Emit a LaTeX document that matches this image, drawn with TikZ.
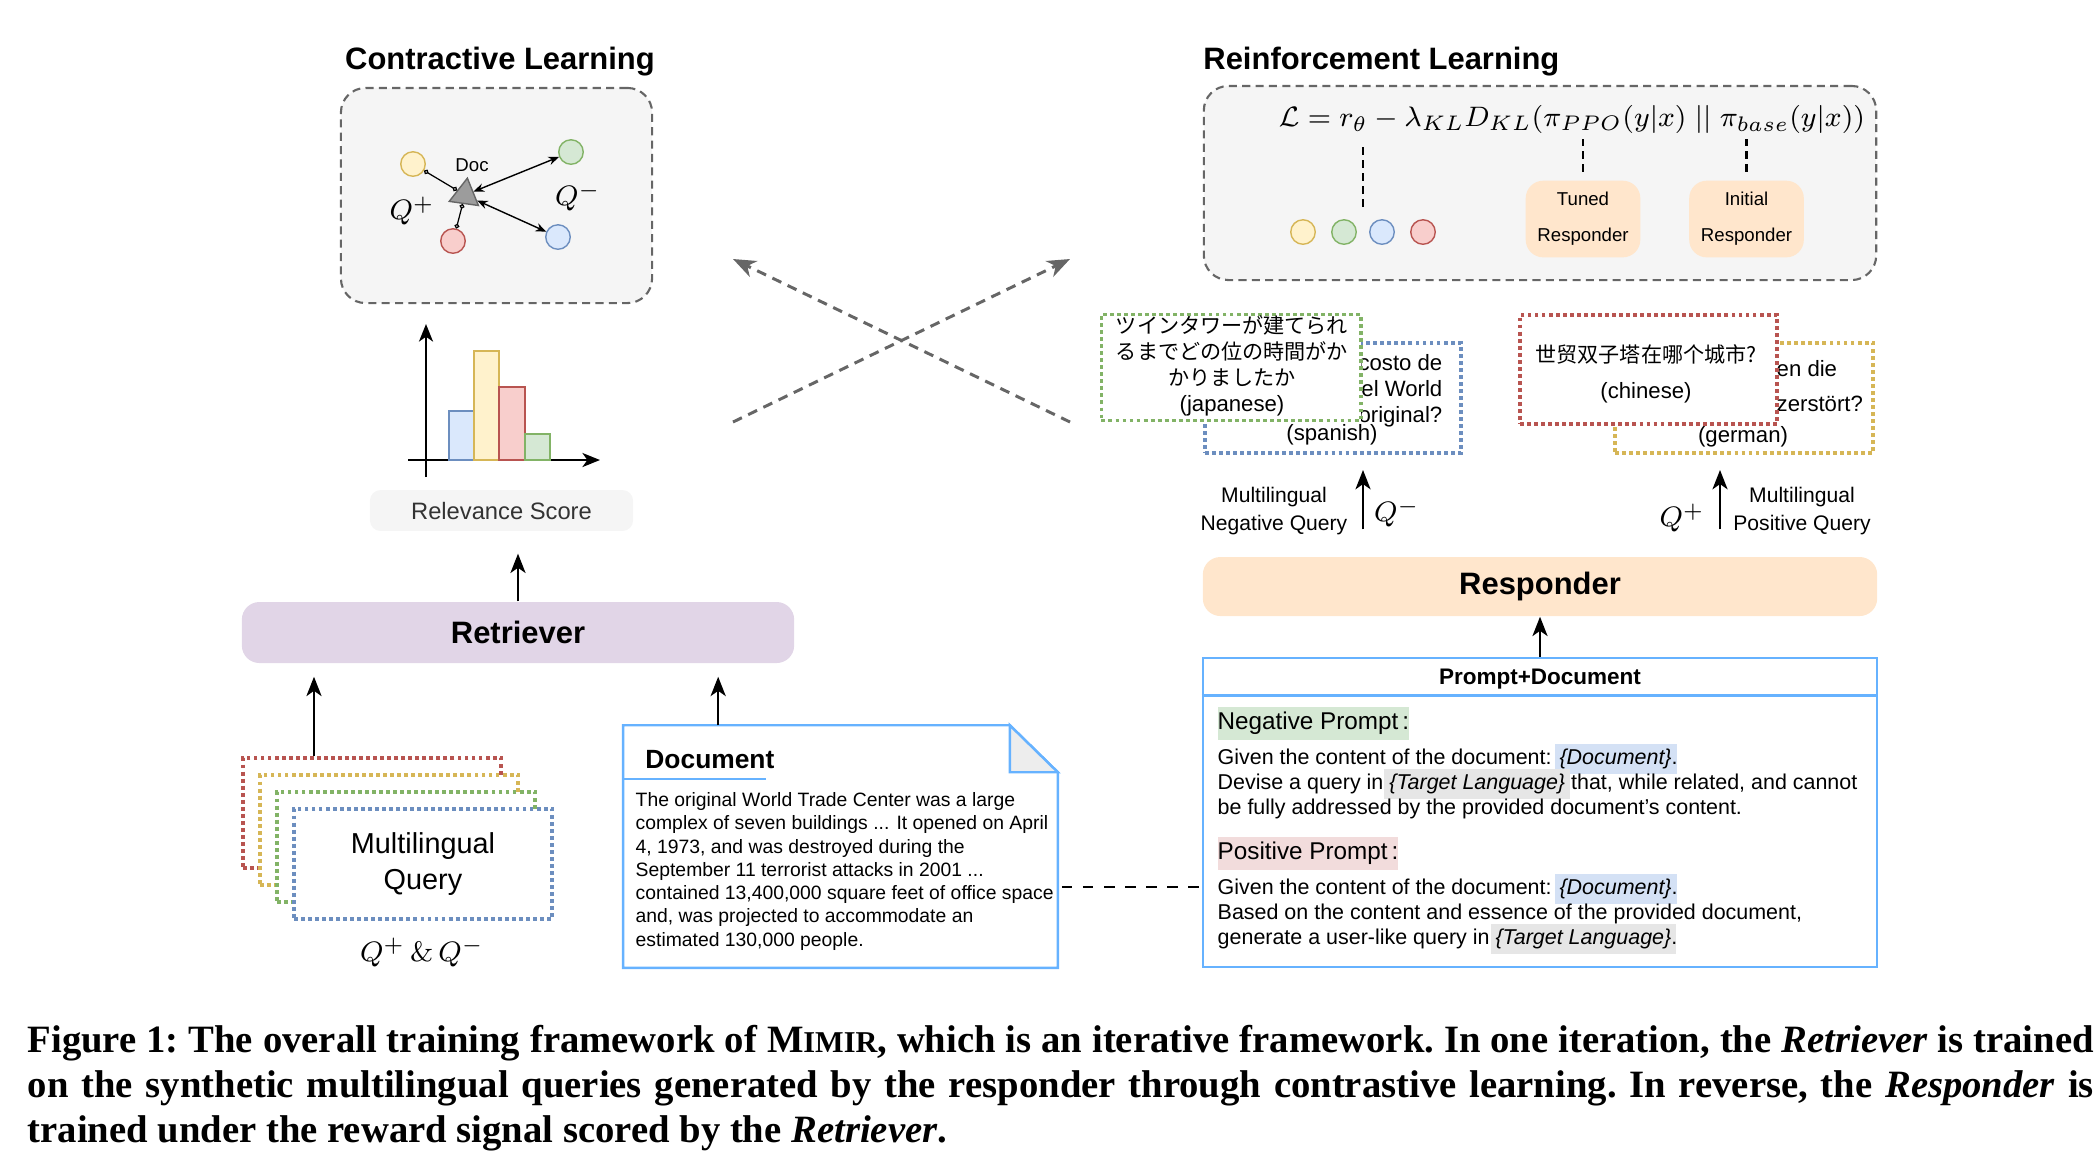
\documentclass[tikz,border=0pt]{standalone}
\usepackage{fontspec}
\setsansfont{Liberation Sans}
\newfontfamily\capfont{Liberation Serif}
\newfontfamily\jafont{Noto Sans CJK JP}
\newfontfamily\zhfont{Noto Sans CJK SC}
\usetikzlibrary{arrows.meta, positioning, shapes.geometric, calc}
\definecolor{cyellow}{HTML}{D6B656}
\definecolor{cyellowf}{HTML}{FFF2CC}
\definecolor{cgreen}{HTML}{82B366}
\definecolor{cgreenf}{HTML}{D5E8D4}
\definecolor{cblue}{HTML}{6C8EBF}
\definecolor{cbluef}{HTML}{DAE8FC}
\definecolor{cred}{HTML}{B85450}
\definecolor{credf}{HTML}{F8CECC}
\definecolor{cpurple}{HTML}{E1D5E7}
\definecolor{corange}{HTML}{FFE6CC}
\definecolor{cpanel}{HTML}{F5F5F5}
\definecolor{cgrey}{HTML}{666666}
\definecolor{cline}{HTML}{66B2FF}
\definecolor{hlblue}{HTML}{D4E1F5}
\definecolor{hlgrey}{HTML}{E6E6E6}
\definecolor{hlgreen}{HTML}{D5E8D4}
\definecolor{hlpink}{HTML}{F2DCDC}
\newcommand{\hl}[2]{{\setlength{\fboxsep}{1.4pt}\hspace*{-1.4pt}\smash{\colorbox{#1}{#2}}\hspace*{-1.4pt}}}
\tikzset{
  every picture/.style={font=\sffamily},
  title/.style={font=\sffamily\bfseries\fontsize{8.8}{10}\selectfont},
  panel/.style={draw=cgrey, fill=cpanel, line width=0.6pt, dash pattern=on 2.3pt off 1.5pt, rounded corners=7pt},
  bigblock/.style={fill=#1, rounded corners=5pt, font=\sffamily\bfseries\fontsize{8.8}{10}\selectfont},
  dot/.style={circle, draw=#1, fill=#1f, line width=0.4pt, minimum size=0.245cm, inner sep=0pt},
  bar/.style={draw=#1, fill=#1f, line width=0.6pt},
  chartaxis/.style={-{Stealth[length=5pt, width=4pt, inset=1.4pt]}, line width=0.6pt},
  qbox/.style={draw=#1, fill=white, line width=1.1pt, dash pattern=on 1.1pt off 0.9pt},
  qtext/.style={font=\sffamily\fontsize{6.3}{7.4}\selectfont, inner sep=0pt},
  qlab/.style={font=\fontsize{8}{9}\selectfont},
  lab/.style={font=\sffamily\fontsize{6}{7.7}\selectfont, align=center},
  upar/.style={-{Stealth[length=5.5pt, width=4.3pt, inset=1.5pt]}, line width=0.6pt},
  pin/.style={{Circle[open, length=1.4pt]}-{Circle[open, length=1.4pt]}, line width=0.35pt},
  dbl/.style={{Stealth[length=3pt, width=2.4pt]}-{Stealth[length=3pt, width=2.4pt]}, line width=0.4pt},
  cross/.style={-{Stealth[length=6.5pt, width=5pt, inset=2pt]}, draw=cgrey, line width=0.85pt, dash pattern=on 2.8pt off 2pt},
  kl/.style={line width=0.6pt, dash pattern=on 2.3pt off 1.4pt},
  respbox/.style={fill=corange, rounded corners=5pt, minimum width=1.12cm, minimum height=0.75cm, align=center, font=\sffamily\fontsize{5.3}{10.2}\selectfont},
  doctext/.style={font=\sffamily\fontsize{5.5}{6.6}\selectfont, align=left, inner sep=0pt},
  ptext/.style={font=\sffamily\fontsize{6.1}{7.2}\selectfont, align=left, inner sep=0pt},
  tag/.style={fill=#1, anchor=west, inner xsep=0pt, inner ysep=0pt, minimum height=0.33cm, font=\sffamily\fontsize{6.9}{8}\selectfont},
}
\begin{document}
\begin{tikzpicture}[x=0.01cm, y=-0.01cm]
  \useasboundingbox (0,0) rectangle (2100,1156);

  % contrastive learning
  \node[title] (cltitle) at (500,62) {Contractive Learning};
  \node[panel, minimum width=3.11cm, minimum height=2.15cm] (clbox) at (496.5,195.5) {};
  \node[dot=cyellow] (cqy) at (413,164) {};
  \node[dot=cgreen] (cqg) at (571,152) {};
  \node[dot=cblue] (cqb) at (558,237) {};
  \node[dot=cred] (cqr) at (453,241) {};
  \node[regular polygon, regular polygon sides=3, draw=cgrey, fill=cgrey!65, line width=0.4pt,
    minimum size=0.34cm, inner sep=0pt, rotate=-8] (doc) at (465,195) {};
  \node[font=\sffamily\fontsize{5.3}{6}\selectfont] (doclab) at (472,165) {Doc};
  \draw[pin] (cqy) -- (doc);
  \draw[pin] (cqr) -- (doc);
  \draw[dbl] (doc) -- (cqg);
  \draw[dbl] (doc) -- (cqb);
  \node[qlab] (clqp) at (412,211) {$Q^+$};
  \node[qlab] (clqm) at (578,197) {$Q^-$};

  % relevance chart
  \draw[chartaxis] (408,460) -- (600,460);
  \draw[chartaxis] (426,477) -- (426,324);
  \draw[bar=cblue] (449,460) rectangle (474,411);
  \draw[bar=cyellow] (474,460) rectangle (499,351);
  \draw[bar=cred] (499,460) rectangle (525,387);
  \draw[bar=cgreen] (525,460) rectangle (550,434);
  \node[fill=cpanel, rounded corners=3pt, minimum width=2.63cm, minimum height=0.35cm, text=black!80,
    font=\sffamily\fontsize{6.75}{8}\selectfont] (rel) at (501.5,510.5) {Relevance Score};

  \node[bigblock=cpurple, minimum width=5.52cm, minimum height=0.61cm] (retr) at (518,632.5) {Retriever};
  \draw[upar, shorten >=0.22cm] (retr.north) -- (retr.north |- rel.south);

  % multilingual queries
  \foreach \c/\n/\x/\y in {cred/qr/372/813, cyellow/qy/389/830, cgreen/qg/406/847}
    \node[qbox=\c, minimum width=2.58cm, minimum height=1.1cm] (\n) at (\x,\y) {};
  \node[qbox=cblue, minimum width=2.58cm, minimum height=1.1cm, align=center,
    font=\sffamily\fontsize{8.2}{10.5}\selectfont] (qb) at (423,864) {Multilingual\\Query};
  \node[qlab] (qpm) at (422,952) {$Q^+\,\&\,Q^-$};
  \coordinate (qout) at ($(qr.north west)+(73,0)$);
  \draw[upar, shorten >=0.13cm] (qout) -- (qout |- retr.south);

  % document
  \node[minimum width=4.33cm, minimum height=2.41cm] (docn) at (840.5,846.5) {};
  \draw[cline, line width=0.7pt] (docn.north west) -- ($(docn.north east)+(-48,0)$) -- ($(docn.north east)+(0,47)$)
    -- (docn.south east) -- (docn.south west) -- cycle;
  \draw[cline, line width=0.7pt, fill=black!7] ($(docn.north east)+(-48,0)$) -- ($(docn.north east)+(-48,47)$)
    -- ($(docn.north east)+(0,47)$) -- cycle;
  \node[anchor=west, font=\sffamily\bfseries\fontsize{7.5}{9}\selectfont] (doctitle) at (633,760) {Document};
  \draw[cline, line width=0.7pt] ($(docn.north west)+(0,54)$) -- ++(143,0);
  \node[doctext, anchor=north west] (docbody) at (635,792) {The original World Trade Center was a large\\
    complex of seven buildings ... It opened on April\\4, 1973, and was destroyed during the\\
    September 11 terrorist attacks in 2001 ...\\contained 13,400,000 square feet of office space\\
    and, was projected to accommodate an\\estimated 130,000 people.};
  \coordinate (dout) at ($(docn.north west)+(95,0)$);
  \draw[upar, shorten >=0.13cm] (dout) -- (dout |- retr.south);

  % iteration arrows
  \coordinate (xa) at (733,422);
  \coordinate (xb) at (1070,259);
  \coordinate (xc) at (1070,422);
  \coordinate (xd) at (733,259);
  \draw[cross] (xa) -- (xb);
  \draw[cross] (xc) -- (xd);

  % reinforcement learning
  \node[title, anchor=west] (rltitle) at (1191,62) {Reinforcement Learning};
  \node[panel, minimum width=6.72cm, minimum height=1.94cm] (rlbox) at (1540,183) {};
  \node[font=\fontsize{7.95}{10}\selectfont] (loss) at (1572,119)
    {$\mathcal{L} = r_\theta - \lambda_{KL} D_{KL}(\pi_{PPO}(y|x)\;||\;\pi_{base}(y|x))$};
  \foreach \c/\n/\x in {cyellow/ry/1303, cgreen/rg/1344, cblue/rb/1382, cred/rr/1423}
    \node[dot=\c] (\n) at (\x,232) {};
  \node[respbox] (tuned) at (1583,219) {Tuned\\Responder};
  \node[respbox, minimum width=1.13cm] (init) at (1746.5,219) {Initial\\Responder};
  \draw[kl] ($(rg)!0.5!(rb)+(0,-25)$) -- ++(0,-64);
  \draw[kl] ($(tuned.north)+(0,-8)$) -- ++(0,-33);
  \draw[kl] ($(init.north)+(0,-8)$) -- ++(0,-33);

  % generated queries
  \node[qbox=cblue, minimum width=2.56cm, minimum height=1.1cm] (qsp) at (1333,398) {};
  \node[qtext, align=right, anchor=east] (sptext) at (1443,391) {costo de\\el World\\original?};
  \node[qtext] (splab) at (1332,435) {(spanish)};
  \node[qbox=cgreen, minimum width=2.59cm, minimum height=1.06cm] (qja) at (1231,367.5) {};
  \node[qtext, align=center] (jatext) at (1232,366) {{\jafont\fontsize{6}{7.4}\selectfont ツインタワーが建てられ}\\
    {\jafont\fontsize{6}{7.4}\selectfont るまでどの位の時間がか}\\{\jafont\fontsize{6}{7.4}\selectfont かりましたか}\\(japanese)};
  \node[qbox=cyellow, minimum width=2.58cm, minimum height=1.1cm] (qde) at (1744,398) {};
  \node[qtext, align=left, anchor=west] (detext) at (1776,386) {en die\\[2.6pt]zerstört?};
  \node[qtext] (delab) at (1743,437) {(german)};
  \node[qbox=cred, minimum width=2.57cm, minimum height=1.09cm] (qzh) at (1648.5,369.5) {};
  \node[qtext, align=center] (zhtext) at (1646,374) {{\zhfont\fontsize{6}{7.4}\selectfont 世贸双子塔在哪个城市?}\\[2.8pt](chinese)};

  % responder
  \node[bigblock=corange, minimum width=6.74cm, minimum height=0.59cm] (resp) at (1540,586.5) {Responder};
  \coordinate (negx) at ($(qsp.south)+(30,0)$);
  \draw[upar, shorten <=0.27cm, shorten >=0.15cm] (negx |- resp.north) -- (negx);
  \coordinate (posx) at ($(qde.south)+(-24,0)$);
  \draw[upar, shorten <=0.27cm, shorten >=0.15cm] (posx |- resp.north) -- (posx);
  \node[lab] (neglab) at (1274,511) {Multilingual\\Negative Query};
  \node[qlab] (negq) at (1397,513) {$Q^-$};
  \node[qlab] (posq) at (1682,518) {$Q^+$};
  \node[lab] (poslab) at (1802,511) {Multilingual\\Positive Query};

  % prompt + document
  \node[draw=cline, line width=0.7pt, minimum width=6.74cm, minimum height=3.09cm] (pd) at (1540,812.5) {};
  \draw[cline, line width=0.7pt] ($(pd.north west)+(0,39)$) -- ($(pd.north east)+(0,39)$);
  \node[font=\sffamily\bfseries\fontsize{6.4}{8}\selectfont] (pdtitle) at (1540,679) {Prompt+Document};
  \draw[upar] (pd.north) -- (resp.south);
  \node[tag=hlgreen] (negtag) at (1217,723.5) {Negative Prompt\,:\hspace{4pt}};
  \node[ptext, anchor=north west] (negbody) at (1217,748) {Given the content of the document: \hl{hlblue}{\textit{\{Document\}}}.\\
    Devise a query in \hl{hlgrey}{\textit{\{Target Language\}}} that, while related, and cannot\\
    be fully addressed by the provided document's content.};
  \node[tag=hlpink] (postag) at (1217,853) {Positive Prompt\,:\hspace{5pt}};
  \node[ptext, anchor=north west] (posbody) at (1217,878) {Given the content of the document: \hl{hlblue}{\textit{\{Document\}}}.\\
    Based on the content and essence of the provided document,\\
    generate a user-like query in \hl{hlgrey}{\textit{\{Target Language\}}}.};
  \coordinate (dlink) at ($(docn.south east)+(4,-81)$);
  \draw[dashed, line width=0.5pt] (dlink) -- (dlink -| pd.west);

  % caption
  \node[anchor=north west, text width=20.65cm, align=justify, inner sep=0pt,
    font=\capfont\bfseries\fontsize{11}{12.7}\selectfont\frenchspacing] (caption) at (27,1025)
    {Figure 1: The overall training framework of M{\fontsize{8.6}{9}\selectfont IMIR}, which is an iterative framework. In one iteration, the \textit{Retriever} is trained\linebreak
    on the synthetic multilingual queries generated by the responder through contrastive learning. In reverse, the \textit{Responder} is\linebreak
    trained under the reward signal scored by the \textit{Retriever}.};
\end{tikzpicture}
\end{document}
